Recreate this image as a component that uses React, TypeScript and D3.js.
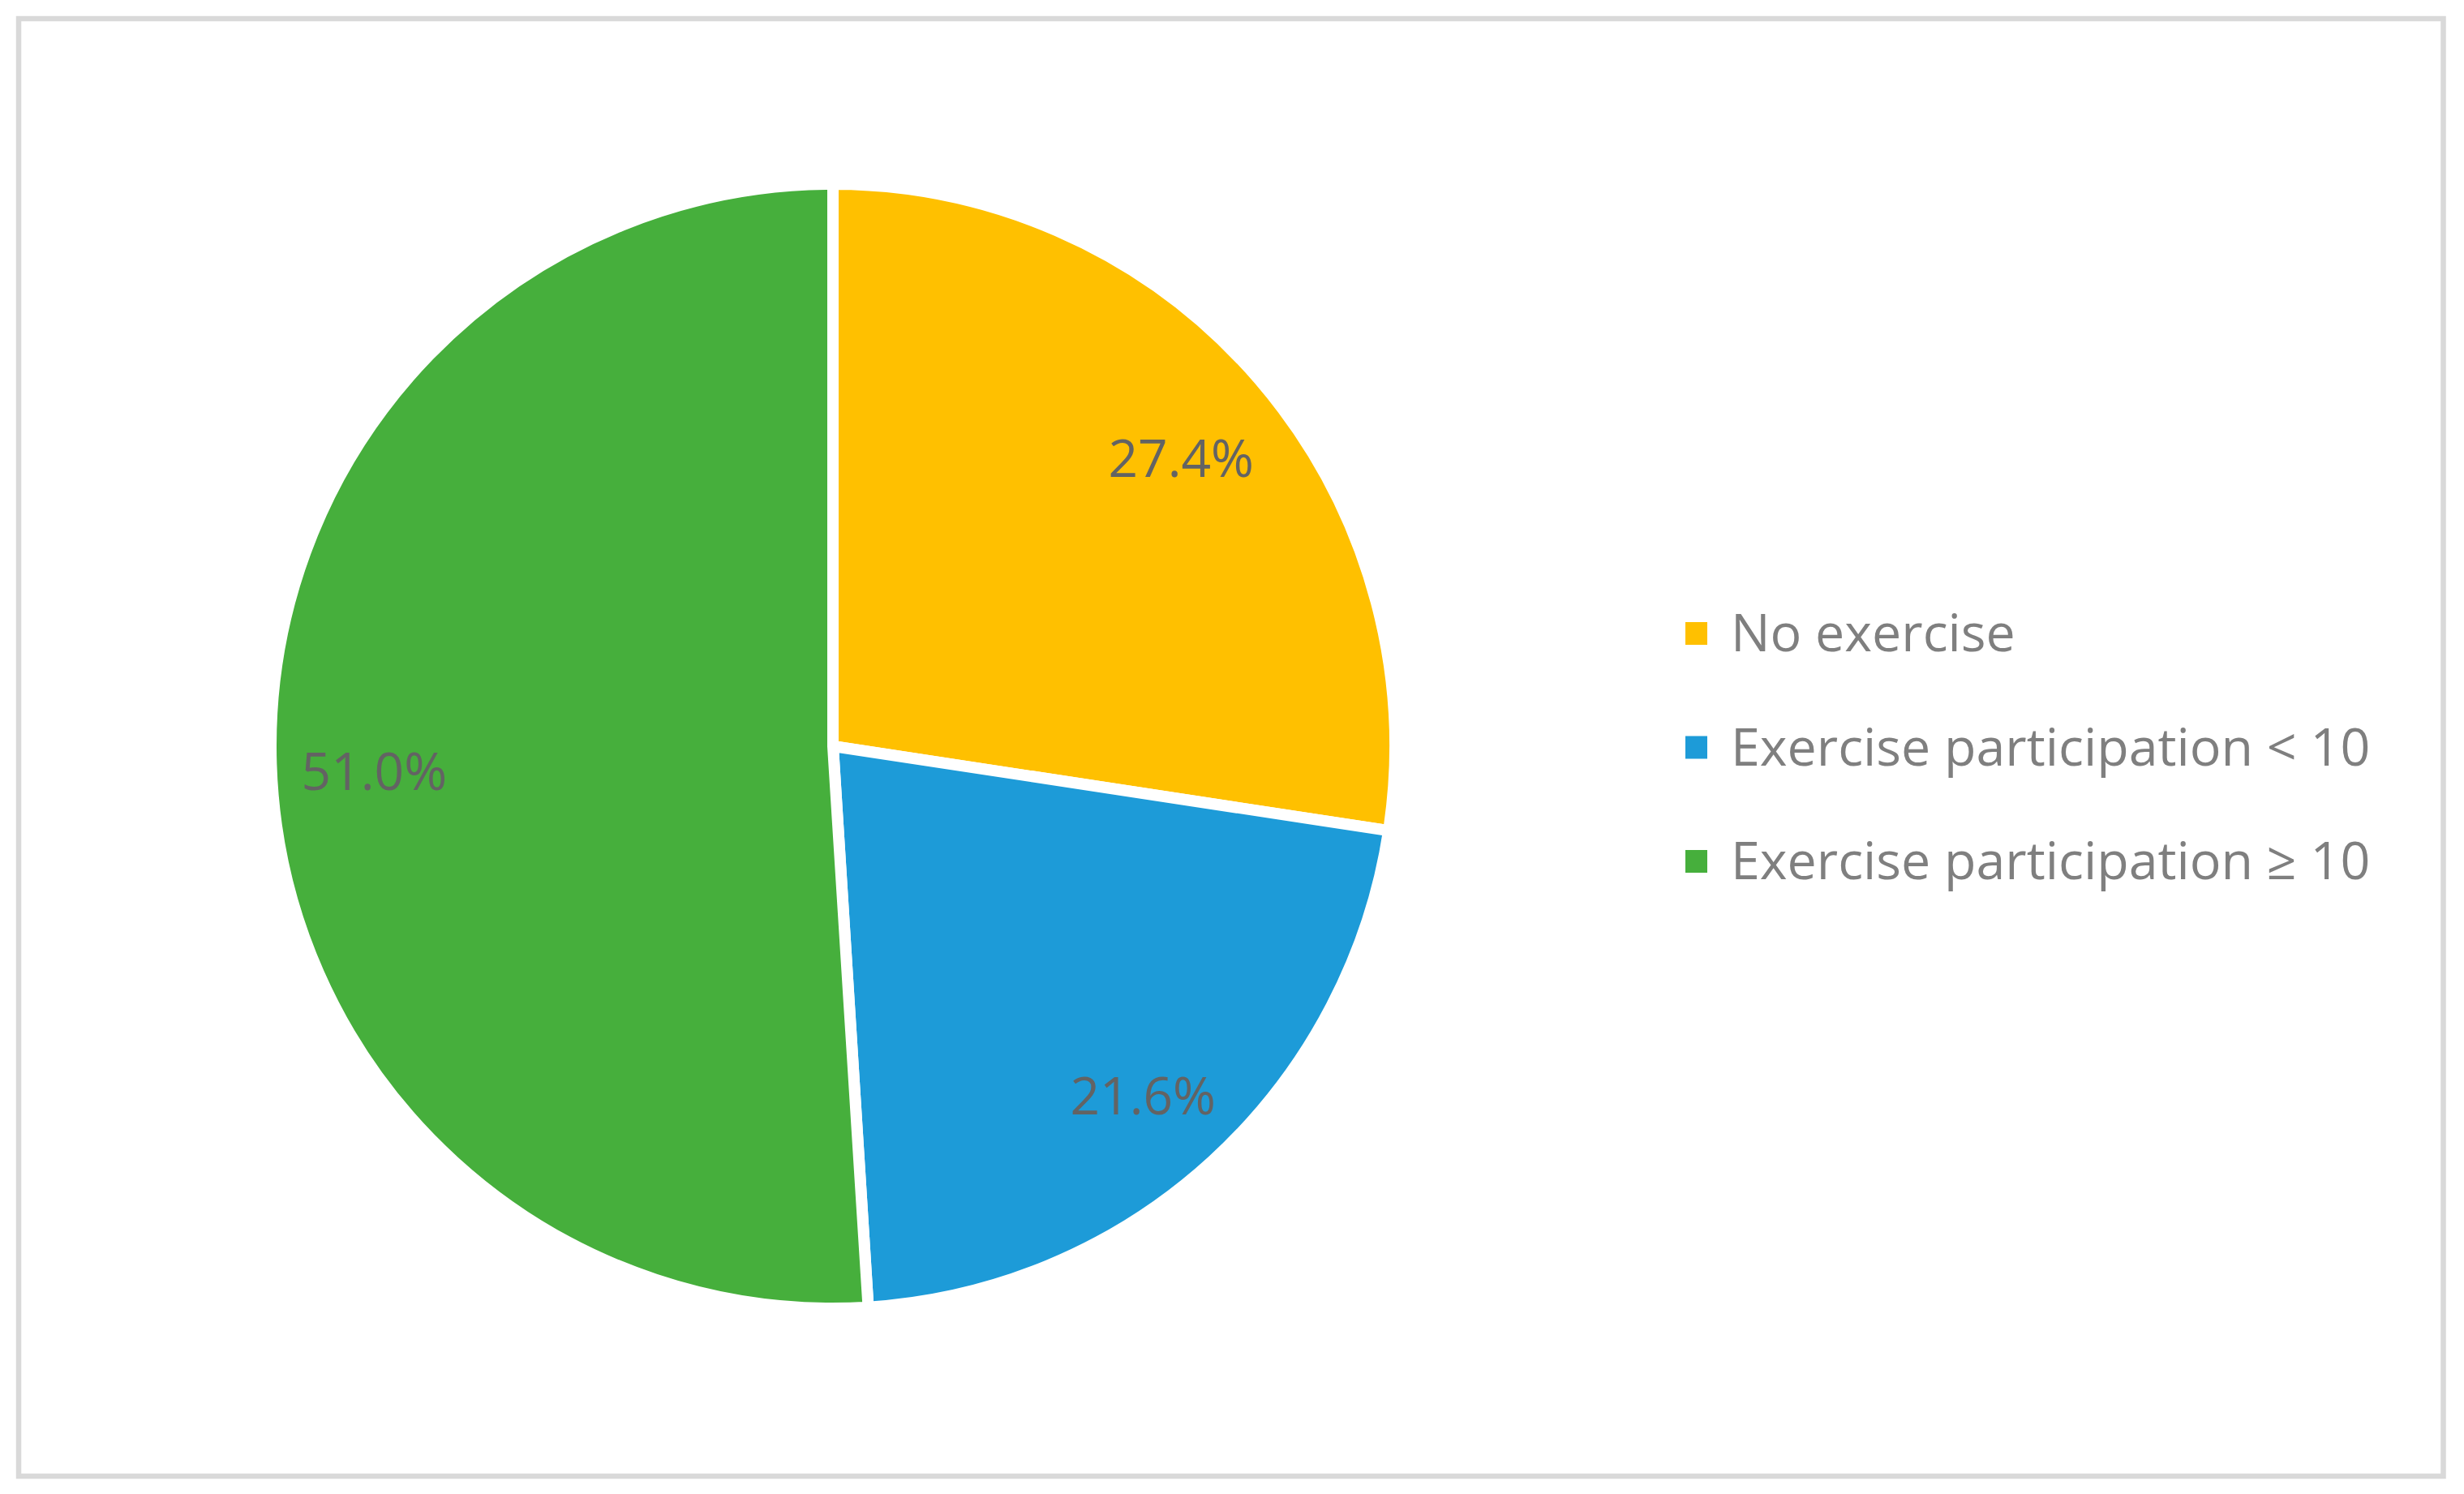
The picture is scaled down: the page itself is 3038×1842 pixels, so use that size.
import React from "react";
import * as d3 from "d3";

const categories = ["No exercise", "Exercise participation < 10", "Exercise participation \u2265 10"];
const values = [27.4, 21.6, 51.0];
const labels = ["27.4%", "21.6%", "51.0%"];
const colors = ["#FFC000", "#1D9BD8", "#46AF3C"];

const W = 3038;
const H = 1842;

export default function App() {
  const cx = 1027;
  const cy = 920;
  const stroke = 14;
  const R = 686 + stroke / 2;
  const pie = d3.pie<number>().sort(null).value((d) => d).startAngle(0).endAngle(2 * Math.PI);
  const arcs = pie(values);
  const arc = d3.arc<d3.PieArcDatum<number>>().innerRadius(0).outerRadius(R);
  const labelArc = d3.arc<d3.PieArcDatum<number>>().innerRadius(566).outerRadius(566);

  const legendY = d3.scalePoint<number>().domain([0, 1, 2]).range([781, 1062]);
  const font = "'Open Sans', sans-serif";

  return (
    <svg width={W} height={H} style={{ position: "absolute", left: 0, top: 0, background: "#fff" }}>
      <rect x={0} y={0} width={W} height={H} fill="#fff" />
      <rect x={23} y={23} width={3012.5 - 23} height={1820 - 23} fill="#fff" stroke="#D9D9D9" strokeWidth={6.5} />
      <g transform={`translate(${cx},${cy})`}>
        {arcs.map((a, i) => (
          <path key={i} d={arc(a) || ""} fill={colors[i]} stroke="#fff" strokeWidth={stroke} strokeLinejoin="miter" />
        ))}
        {arcs.map((a, i) => {
          const [x, y] = labelArc.centroid(a);
          return (
            <text key={i} x={x} y={y + 12} textAnchor="middle" dominantBaseline="central" fontFamily={font} fontSize={64} fill="#636363">
              {labels[i]}
            </text>
          );
        })}
      </g>
      {categories.map((c, i) => {
        const y = legendY(i) as number;
        return (
          <g key={c}>
            <rect x={2078} y={y - 14} width={27} height={28} fill={colors[i]} />
            <text x={2134} y={y + 22} fontFamily={font} fontSize={64.5} fill="#7F7F7F">
              {c}
            </text>
          </g>
        );
      })}
    </svg>
  );
}
